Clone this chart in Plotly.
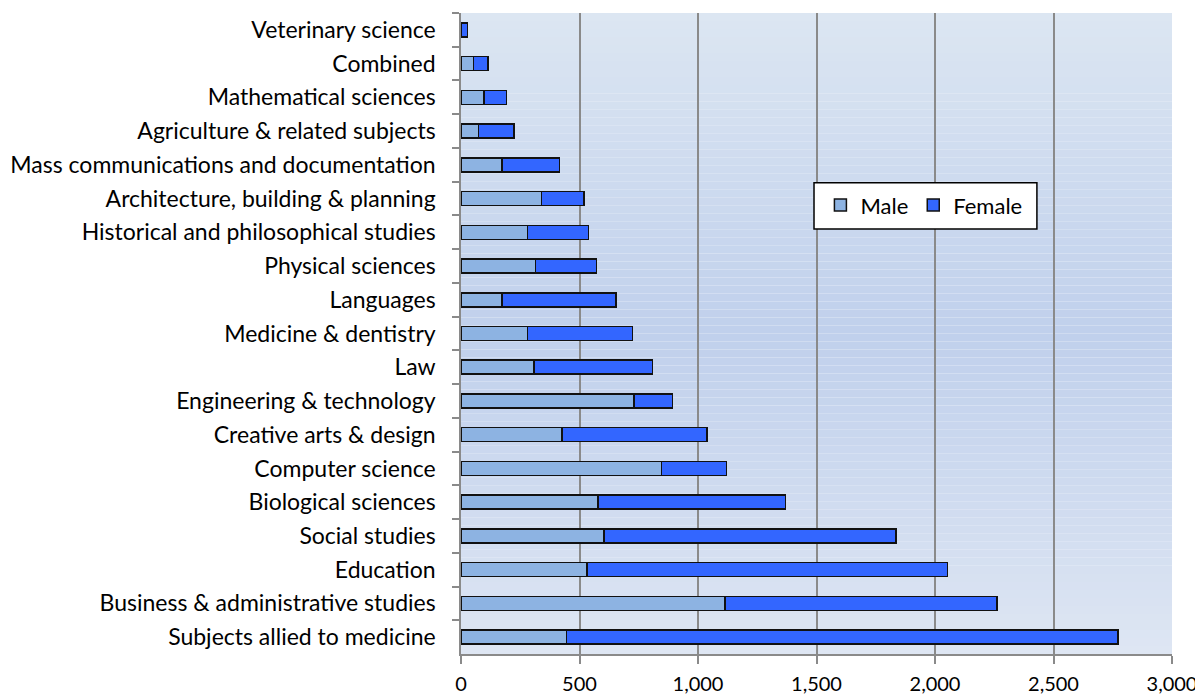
import plotly.graph_objects as go

categories = [
    "Veterinary science", "Combined", "Mathematical sciences",
    "Agriculture & related subjects", "Mass communications and documentation",
    "Architecture, building & planning", "Historical and philosophical studies",
    "Physical sciences", "Languages", "Medicine & dentistry", "Law",
    "Engineering & technology", "Creative arts & design", "Computer science",
    "Biological sciences", "Social studies", "Education",
    "Business & administrative studies", "Subjects allied to medicine",
]
male = [3, 53, 98, 73, 172, 340, 281, 315, 172, 281, 308, 729, 426, 845, 577, 603, 532, 1114, 446]
female = [25, 60, 93, 151, 243, 179, 258, 256, 483, 442, 499, 163, 611, 276, 793, 1232, 1520, 1148, 2326]
x_ticks = [0, 500, 1000, 1500, 2000, 2500, 3000]
x_tick_labels = ["0", "500", "1,000", "1,500", "2,000", "2,500", "3,000"]

FONT = "Lato, Calibri, sans-serif"

fig = go.Figure()
fig.add_trace(go.Bar(y=categories, x=male, orientation="h", name="Male",
                     marker=dict(color="#8db3e2", line=dict(color="#111111", width=1.5))))
fig.add_trace(go.Bar(y=categories, x=female, orientation="h", name="Female",
                     marker=dict(color="#3366ff", line=dict(color="#111111", width=1.5))))

# gradient background bands
def lerp(c1, c2, t):
    return tuple(round(a + (b - a) * t) for a, b in zip(c1, c2))

top = (220, 230, 242)
mid = (192, 208, 236)
bot = (222, 230, 243)
n = 80
shapes = []
for i in range(n):
    y0 = 1 - i / n
    y1 = 1 - (i + 1) / n
    t = (i + 0.5) / n
    if t < 0.5:
        c = lerp(top, mid, t / 0.5)
    else:
        c = lerp(mid, bot, (t - 0.5) / 0.5)
    shapes.append(dict(type="rect", xref="x domain", yref="y domain",
                       x0=0, x1=1, y0=y1, y1=y0, layer="below",
                       fillcolor="rgb(%d,%d,%d)" % c, line=dict(width=0)))

# legend frame
shapes.append(dict(type="rect", xref="paper", yref="paper",
                   x0=0.4965, x1=0.810, y0=0.663, y1=0.735, layer="above",
                   fillcolor="white", line=dict(color="#000000", width=1.5)))

# page body has an 8px default margin; figure sized to compensate
fig.update_layout(
    barmode="stack",
    bargap=0.585,
    width=1195, height=689,
    margin=dict(l=453, r=31, t=5, b=43, autoexpand=False),
    paper_bgcolor="white",
    plot_bgcolor="rgba(0,0,0,0)",
    font=dict(family=FONT, size=22, color="#000000"),
    shapes=shapes,
    showlegend=True,
    legend=dict(orientation="h", x=0.5055, y=0.733, xanchor="left", yanchor="top",
                bgcolor="rgba(0,0,0,0)", borderwidth=0,
                font=dict(family=FONT, size=22), itemwidth=30,
                traceorder="normal"),
)
fig.update_xaxes(range=[0, 3000], tickvals=x_ticks, ticktext=x_tick_labels,
                 showgrid=True, gridcolor="#8a8a8a", gridwidth=1.5,
                 showline=True, linecolor="#8a8a8a", linewidth=1.5,
                 ticks="outside", ticklen=8, tickcolor="#8a8a8a", tickwidth=1.5,
                 zeroline=False, ticklabelstandoff=3, automargin=False,
                 tickfont=dict(size=20))
fig.update_yaxes(categoryorder="array", categoryarray=categories, autorange="reversed",
                 showline=True, linecolor="#8a8a8a", linewidth=1.5,
                 ticks="outside", ticklen=7, tickcolor="#8a8a8a", tickwidth=1.5,
                 tickson="boundaries", showgrid=False, ticklabelstandoff=19,
                 tickfont=dict(size=23), automargin=False)

fig.write_html("out.html")
